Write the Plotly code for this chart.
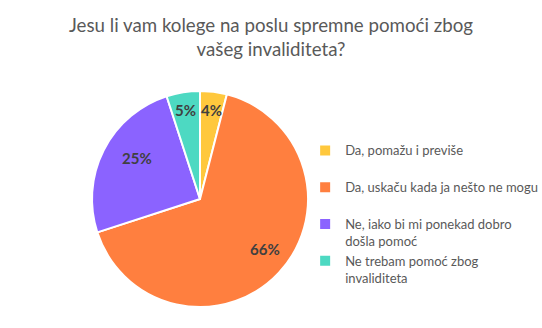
import math
import plotly.graph_objects as go

# Survey answers and their shares (percent)
labels = [
    "Da, pomažu i previše<br> ",
    "Da, uskaču kada ja nešto ne mogu<br> ",
    "Ne, iako bi mi ponekad dobro<br>došla pomoć",
    "Ne trebam pomoć zbog<br>invaliditeta",
]
values = [4, 66, 25, 5]
colors = ["#FFC83D", "#FF7F3F", "#8B63FF", "#4DD9C2"]

# Canvas and pie geometry (pixels)
W, H = 542, 328
CX, CY, R = 200, 199, 108
LABEL_R = 0.83  # data labels sit toward the outer edge of each slice

fig = go.Figure(
    go.Pie(
        labels=labels,
        values=values,
        sort=False,
        direction="clockwise",
        rotation=0,
        marker=dict(colors=colors, line=dict(color="white", width=2)),
        textinfo="none",
        domain=dict(x=[(CX - R) / W, (CX + R) / W],
                    y=[1 - (CY + R) / H, 1 - (CY - R) / H]),
        hoverinfo="label+percent",
    )
)

# Percentage labels placed at each slice's mid-angle (clockwise from 12 o'clock)
total = sum(values)
start = 0.0
for v in values:
    mid = (start + v / 2) / total * 2 * math.pi
    start += v
    px = CX + LABEL_R * R * math.sin(mid)
    py = CY - LABEL_R * R * math.cos(mid)
    fig.add_annotation(
        x=px / W, y=1 - py / H, xref="paper", yref="paper",
        text=f"<b>{v}%</b>", showarrow=False,
        font=dict(family="Lato", size=15, color="#404040"),
    )

fig.update_layout(
    width=W,
    height=H,
    margin=dict(l=0, r=0, t=0, b=0, autoexpand=False),
    paper_bgcolor="white",
    plot_bgcolor="white",
    font=dict(family="Lato", color="#595959"),
    title=dict(
        text="Jesu li vam kolege na poslu spremne pomoći zbog<br>vašeg invaliditeta?",
        x=0.5,
        xanchor="center",
        y=0.903,
        yanchor="top",
        font=dict(family="Lato", size=18.7, color="#595959"),
    ),
    legend=dict(
        x=0.563,
        xanchor="left",
        y=0.587,
        yanchor="top",
        valign="top",
        font=dict(family="Lato", size=13, color="#595959"),
        itemwidth=30,
        bgcolor="rgba(0,0,0,0)",
    ),
    showlegend=True,
)

fig.write_html("out.html")
